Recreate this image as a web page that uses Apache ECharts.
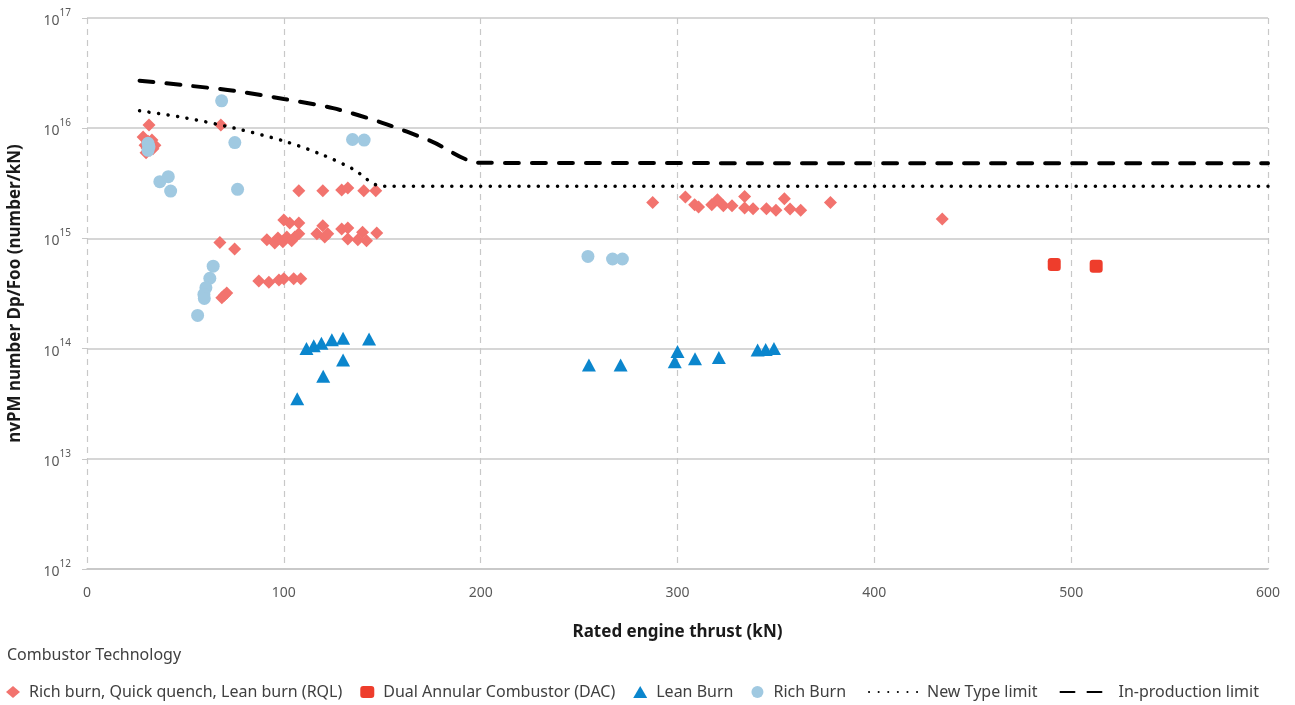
<!DOCTYPE html>
<html>
<head>
<meta charset="utf-8">
<script src="https://cdn.jsdelivr.net/npm/echarts@6/dist/echarts.min.js"></script>
<style>
  html, body { margin: 0; padding: 0; background: #fff; }
  #chart { width: 1295px; height: 705px; }
</style>
</head>
<body>
<div id="chart"></div>
<script>
// x = rated engine thrust (kN), y = nvPM number Dp/Foo (number/kN)
var rqlX = [28.5, 29.5, 30, 31, 32, 33, 34.5, 31.5, 30.5, 33.5,
  68, 67.5, 75, 68.5, 71, 69.8,
  87.3, 92.4, 97.5, 100, 105, 108.6,
  91.4, 95.4, 97, 99.5, 101.5, 104, 105.6, 107.6, 100, 103, 107.6, 116.8, 119.8, 120.8, 122.3, 129.4, 132.5, 132.5, 137.6, 140, 142, 147.2,
  107.6, 119.8, 129.4, 132.5, 140.6, 146.7,
  287.4, 304, 308.7, 310.7, 317.4, 320.3, 323.3, 327.7, 334.1, 334.1, 338.4, 345.2, 350, 354.3, 357.2, 362.6, 377.7,
  434.5];
var rqlY = [8.3e15, 7.0e15, 6.0e15, 7.6e15, 6.3e15, 7.8e15, 7.0e15, 1.07e16, 6.6e15, 6.5e15,
  1.07e16, 9.2e14, 8.0e14, 2.9e14, 3.2e14, 3.05e14,
  4.1e14, 4.0e14, 4.2e14, 4.3e14, 4.3e14, 4.3e14,
  9.7e14, 9.1e14, 1.01e15, 9.3e14, 1.03e15, 9.5e14, 1.03e15, 1.1e15, 1.47e15, 1.38e15, 1.38e15, 1.1e15, 1.3e15, 1.03e15, 1.1e15, 1.22e15, 1.24e15, 9.9e14, 9.7e14, 1.14e15, 9.5e14, 1.12e15,
  2.7e15, 2.7e15, 2.75e15, 2.87e15, 2.7e15, 2.7e15,
  2.12e15, 2.38e15, 2.02e15, 1.93e15, 2.02e15, 2.24e15, 1.98e15, 1.98e15, 2.4e15, 1.89e15, 1.86e15, 1.86e15, 1.8e15, 2.29e15, 1.85e15, 1.8e15, 2.12e15,
  1.5e15];

var dacX = [491.4, 512.7];
var dacY = [5.8e14, 5.6e14];

var leanX = [111.5, 115.2, 119.1, 124.4, 130.1, 143.3, 130.1, 120, 106.8,
  255, 271.1, 300, 298.6, 308.9, 321, 340.7, 344.8, 349];
var leanY = [1.0e14, 1.06e14, 1.12e14, 1.2e14, 1.24e14, 1.22e14, 7.9e13, 5.6e13, 3.5e13,
  7.1e13, 7.1e13, 9.4e13, 7.6e13, 8.1e13, 8.3e13, 9.7e13, 9.8e13, 1.0e14];

var richX = [31, 31.5, 31, 68.4, 75.1, 134.9, 140.8, 37, 41.3, 42.5, 76.5,
  64.1, 62.4, 60.4, 59.4, 59.6, 56.2, 254.5, 267, 272];
var richY = [7.3e15, 6.8e15, 6.3e15, 1.77e16, 7.4e15, 7.9e15, 7.8e15, 3.27e15, 3.63e15, 2.69e15, 2.79e15,
  5.6e14, 4.35e14, 3.57e14, 3.1e14, 2.85e14, 2.0e14, 6.86e14, 6.5e14, 6.5e14];

var newTypeX = [26.7, 50, 75, 100, 120, 135, 150, 600];
var newTypeY = [1.44e16, 1.24e16, 1.0e16, 7.65e15, 5.7e15, 4.27e15, 2.97e15, 2.97e15];

var inProdX = [26.7, 50, 75, 100, 125, 150, 175, 200, 600];
var inProdY = [2.7e16, 2.45e16, 2.18e16, 1.84e16, 1.52e16, 1.12e16, 7.6e15, 4.85e15, 4.8e15];

var xTicks = [0, 100, 200, 300, 400, 500, 600];

function pairs(xs, ys) {
  return xs.map(function (x, i) { return [x, ys[i]]; });
}

var font = 'Noto Sans';
var legendText = { fontFamily: font, fontSize: 16, color: '#404040', padding: [0, 0, 0, 4] };
var chart = echarts.init(document.getElementById('chart'));

var option = {
  animation: false,
  textStyle: { fontFamily: font },
  title: {
    text: 'Combustor Technology',
    left: 2,
    top: 642,
    textStyle: { fontFamily: font, fontSize: 16, fontWeight: 'normal', color: '#404040' }
  },
  grid: { left: 87, right: 27, top: 18, bottom: 136, outerBoundsMode: 'none' },
  legend: [
    {
      data: ['Rich burn, Quick quench, Lean burn (RQL)', 'Dual Annular Combustor (DAC)', 'Lean Burn', 'Rich Burn'],
      left: 1,
      top: 679,
      itemWidth: 14,
      itemHeight: 12,
      itemGap: 18,
      textStyle: legendText
    },
    {
      data: ['New Type limit', 'In-production limit'],
      left: 863,
      top: 679,
      itemWidth: 49,
      itemHeight: 12,
      itemGap: 22,
      itemStyle: { opacity: 0 },
      textStyle: legendText
    }
  ],
  xAxis: {
    type: 'value',
    min: 0,
    max: 600,
    interval: 100,
    name: 'Rated engine thrust (kN)',
    nameLocation: 'middle',
    nameGap: 55,
    nameTextStyle: { fontFamily: font, fontSize: 17, fontWeight: 'bold', color: '#1a1a1a' },
    axisLine: { show: true, lineStyle: { color: '#c8c8c8', width: 1.5 } },
    axisTick: { show: false },
    axisLabel: {
      color: '#595959',
      fontSize: 14,
      margin: 17,
      formatter: function (v) { return xTicks.indexOf(v) >= 0 ? String(v) : ''; }
    },
    splitLine: { show: true, lineStyle: { color: '#c8c8c8', type: [6, 5], width: 1.2 } }
  },
  yAxis: {
    type: 'log',
    logBase: 10,
    min: 1e12,
    max: 1e17,
    name: 'nvPM number Dp/Foo (number/kN)',
    nameLocation: 'middle',
    nameRotate: 90,
    nameGap: 63,
    nameTextStyle: { fontFamily: font, fontSize: 17, fontWeight: 'bold', color: '#1a1a1a' },
    axisLine: { show: false },
    axisTick: { show: true, length: 5, lineStyle: { color: '#c8c8c8' } },
    axisLabel: {
      margin: 16,
      formatter: function (v) {
        return '{b|10}{s|' + Math.round(Math.log10(v)) + '}';
      },
      rich: {
        b: { fontFamily: font, fontSize: 14, color: '#595959', lineHeight: 20, verticalAlign: 'bottom' },
        s: { fontFamily: font, fontSize: 10, color: '#595959', lineHeight: 12, verticalAlign: 'top' }
      }
    },
    splitLine: { show: true, lineStyle: { color: '#c8c8c8', width: 1.5 } }
  },
  series: [
    {
      name: 'New Type limit',
      type: 'line',
      data: pairs(newTypeX, newTypeY),
      smooth: 0.3,
      symbol: 'none',
      z: 3,
      lineStyle: { color: '#000', width: 3.5, type: [0.1, 9.5], cap: 'round' },
      itemStyle: { color: '#000' }
    },
    {
      name: 'In-production limit',
      type: 'line',
      data: pairs(inProdX, inProdY),
      smooth: 0.3,
      symbol: 'none',
      z: 3,
      lineStyle: { color: '#000', width: 4, type: [14, 13], cap: 'round' },
      itemStyle: { color: '#000' }
    },
    {
      name: 'Rich burn, Quick quench, Lean burn (RQL)',
      type: 'scatter',
      symbol: 'diamond',
      symbolSize: 13,
      data: pairs(rqlX, rqlY),
      itemStyle: { color: '#f2736e', opacity: 1 }
    },
    {
      name: 'Dual Annular Combustor (DAC)',
      type: 'scatter',
      symbol: 'roundRect',
      symbolSize: 13,
      data: pairs(dacX, dacY),
      itemStyle: { color: '#ee3d2c', opacity: 1 }
    },
    {
      name: 'Lean Burn',
      type: 'scatter',
      symbol: 'triangle',
      symbolSize: [14, 13],
      data: pairs(leanX, leanY),
      itemStyle: { color: '#0b86cd', opacity: 1 }
    },
    {
      name: 'Rich Burn',
      type: 'scatter',
      symbol: 'circle',
      symbolSize: 13,
      data: pairs(richX, richY),
      itemStyle: { color: '#a0c9e1', opacity: 1 }
    }
  ]
};

chart.setOption(option);
</script>
</body>
</html>
